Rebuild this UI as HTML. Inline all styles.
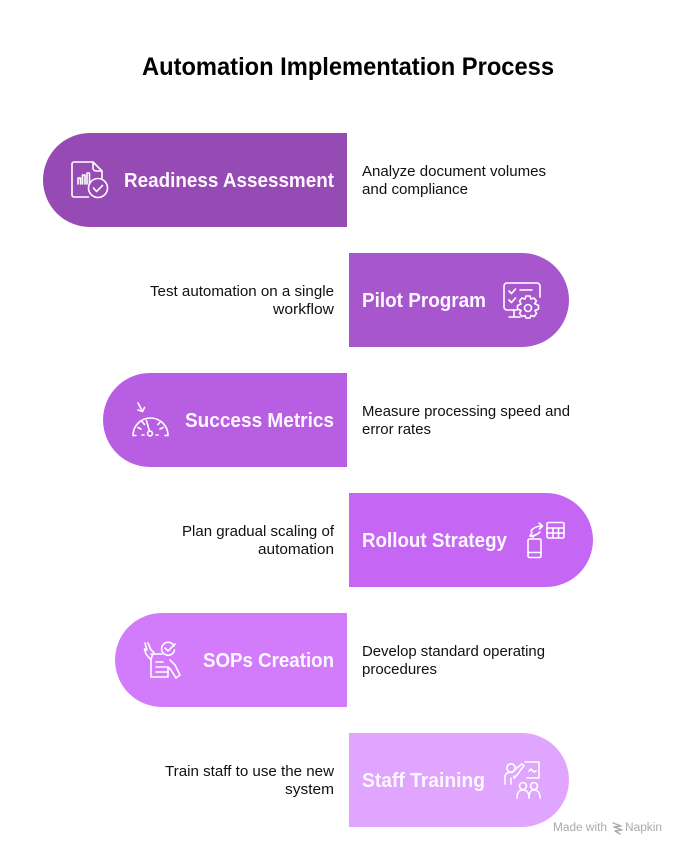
<!DOCTYPE html>
<html>
<head>
<meta charset="utf-8">
<style>
html,body{margin:0;padding:0;background:#fff;width:684px;height:853px;overflow:hidden}
svg{display:block}
text{font-family:"Liberation Sans",sans-serif}
.t{font-size:14.8px;fill:#111}
.h{font-size:20px;font-weight:700;fill:#fdf8ff}
.i{fill:none;stroke:#fff;stroke-width:1.6;stroke-linecap:round;stroke-linejoin:round}
</style>
</head>
<body>
<svg width="684" height="853" viewBox="0 0 684 853" xmlns="http://www.w3.org/2000/svg">
<rect width="684" height="853" fill="#fff"/>
<text x="142" y="75" font-size="25" font-weight="700" fill="#000" textLength="412" lengthAdjust="spacingAndGlyphs">Automation Implementation Process</text>

<path d="M347 133H90a47 47 0 0 0 0 94H347Z" fill="#964ab4"/>
<path d="M349 253H522a47 47 0 0 1 0 94H349Z" fill="#a856ce"/>
<path d="M347 373H150a47 47 0 0 0 0 94H347Z" fill="#b85ee2"/>
<path d="M349 493H546a47 47 0 0 1 0 94H349Z" fill="#c666f5"/>
<path d="M347 613H162a47 47 0 0 0 0 94H347Z" fill="#d27cfc"/>
<path d="M349 733H522a47 47 0 0 1 0 94H349Z" fill="#e0a5fe"/>

<text class="h" x="124" y="187" textLength="210" lengthAdjust="spacingAndGlyphs">Readiness Assessment</text>
<text class="h" x="362" y="307" textLength="124" lengthAdjust="spacingAndGlyphs">Pilot Program</text>
<text class="h" x="185" y="427" textLength="149" lengthAdjust="spacingAndGlyphs">Success Metrics</text>
<text class="h" x="362" y="547" textLength="145" lengthAdjust="spacingAndGlyphs">Rollout Strategy</text>
<text class="h" x="203" y="667" textLength="131" lengthAdjust="spacingAndGlyphs">SOPs Creation</text>
<text class="h" x="362" y="787" textLength="123" lengthAdjust="spacingAndGlyphs">Staff Training</text>

<text class="t" x="362" y="176" textLength="184" lengthAdjust="spacingAndGlyphs">Analyze document volumes</text>
<text class="t" x="362" y="194" textLength="106" lengthAdjust="spacingAndGlyphs">and compliance</text>
<text class="t" x="150" y="296" textLength="184" lengthAdjust="spacingAndGlyphs">Test automation on a single</text>
<text class="t" x="273" y="314" textLength="61" lengthAdjust="spacingAndGlyphs">workflow</text>
<text class="t" x="362" y="416" textLength="208" lengthAdjust="spacingAndGlyphs">Measure processing speed and</text>
<text class="t" x="362" y="434" textLength="69" lengthAdjust="spacingAndGlyphs">error rates</text>
<text class="t" x="182" y="536" textLength="152" lengthAdjust="spacingAndGlyphs">Plan gradual scaling of</text>
<text class="t" x="258" y="554" textLength="76" lengthAdjust="spacingAndGlyphs">automation</text>
<text class="t" x="362" y="656" textLength="183" lengthAdjust="spacingAndGlyphs">Develop standard operating</text>
<text class="t" x="362" y="674" textLength="75" lengthAdjust="spacingAndGlyphs">procedures</text>
<text class="t" x="165" y="776" textLength="169" lengthAdjust="spacingAndGlyphs">Train staff to use the new</text>
<text class="t" x="285" y="794" textLength="49" lengthAdjust="spacingAndGlyphs">system</text>

<!-- Readiness icon -->
<g class="i">
<path d="M88.500 197H74a2 2 0 0 1-2-2V164a2 2 0 0 1 2-2H93l9 9V178.500"/>
<path d="M93 162v6a3 3 0 0 0 3 3h6"/>
<path d="M78 184v-6h2.500v6M82.500 184v-9h2.500v9M87 184v-11h2.500v11"/>
<circle cx="98" cy="188" r="9.500"/>
<path d="M93.500 188l3 3.500 6-6"/>
</g>

<!-- Pilot icon -->
<g class="i">
<path d="M517 310H507a3 3 0 0 1-3-3V286a3 3 0 0 1 3-3h30a3 3 0 0 1 3 3V297"/>
<path d="M514 310v7M509 317h11"/>
<path d="M509 291l2.500 2.500 4-4.500M509 300l2.500 2.500 4-4.500M520 290h12"/>
<path d="M526 296h4l1 3 3-1 2.500 3-2 2.500 4 2v3.500l-3.500 1.500 1.500 3-2.500 3-3-1-1 2.500h-4l-1-2.500-3 1-2.500-3 1.500-3-3.500-1.500v-3.500l3.500-1.500-1.500-3 2.500-3 3 1z"/>
<circle cx="528" cy="308" r="3.500"/>
</g>

<!-- Success Metrics icon -->
<g class="i">
<path d="M133 435.500a17.500 17.500 0 0 1 35 0"/>
<path d="M133 435.500h3M165 435.500h3M142 435h2M156 435h2"/>
<circle cx="150" cy="433.500" r="2.400"/>
<path d="M149.400 431l-3-10.500M138 427.500l3 1.500M142 421.500l2.500 3M158 424.500l2.500-3M160 429l3-1.500"/>
<path d="M138 403l4.500 8.500M142.500 411.500l-4.500-1.500M142.500 411.500l2-4"/>
</g>

<!-- Rollout icon -->
<g class="i">
<rect x="547" y="522.500" width="17" height="15.500" rx="1.500"/>
<path d="M547 528h17M547 533h17M553 528v10M558.500 528v10"/>
<rect x="528" y="539" width="13" height="18.500" rx="1.500"/>
<path d="M528 552.500h13"/>
<path d="M531 531c2-3 6-5 11-5M539 523l3.500 3-3 3M530 536c3 0 7-1 10-4M530 536l2-3.500M530 536l3.500 1"/>
</g>

<!-- SOPs icon -->
<g class="i">
<path d="M151 660v17h17v-9M151 654h9a8 8 0 0 0 2 0"/>
<path d="M156 662h7M156 667h12M156 672h12"/>
<path d="M145 643l2 7-2.500-1 1.500 5 5 6 1-4 2-3.500-3-2.500-3-7"/>
<path d="M170 660l5 5 5 10-4 3-5-8-3-3"/>
<path d="M174 646a6.500 6.500 0 1 0 0.500 4"/>
<path d="M165 648l3 3 7-7"/>
</g>

<!-- Training icon -->
<g class="i">
<circle cx="511" cy="768" r="4.200"/>
<path d="M505 784v-7c0-3 2-4.500 5-4.500h2l6-5.500 4-3 2 1.500-7 9.500-3 3v-2M511 784v-6"/>
<path d="M525 762h14v16h-12"/>
<path d="M529 771l2-2 3 3 2-1"/>
<circle cx="523" cy="786" r="3.500"/>
<circle cx="534" cy="786" r="3.500"/>
<path d="M517 798c0-7 4-8 6-8s6 1 6 8M529 798c0-7 3-8 5-8s6 1 6 8"/>
</g>

<!-- Watermark -->
<text x="553" y="831" font-size="11.500" fill="#aaa" textLength="54" lengthAdjust="spacingAndGlyphs">Made with</text>
<path d="M613 823l8 3-7 1 8 3-7 1 5 3" fill="none" stroke="#aaa" stroke-width="1.400" stroke-linecap="round" stroke-linejoin="round"/>
<text x="625" y="831" font-size="11.500" fill="#aaa" textLength="37" lengthAdjust="spacingAndGlyphs">Napkin</text>
</svg>
</body>
</html>
